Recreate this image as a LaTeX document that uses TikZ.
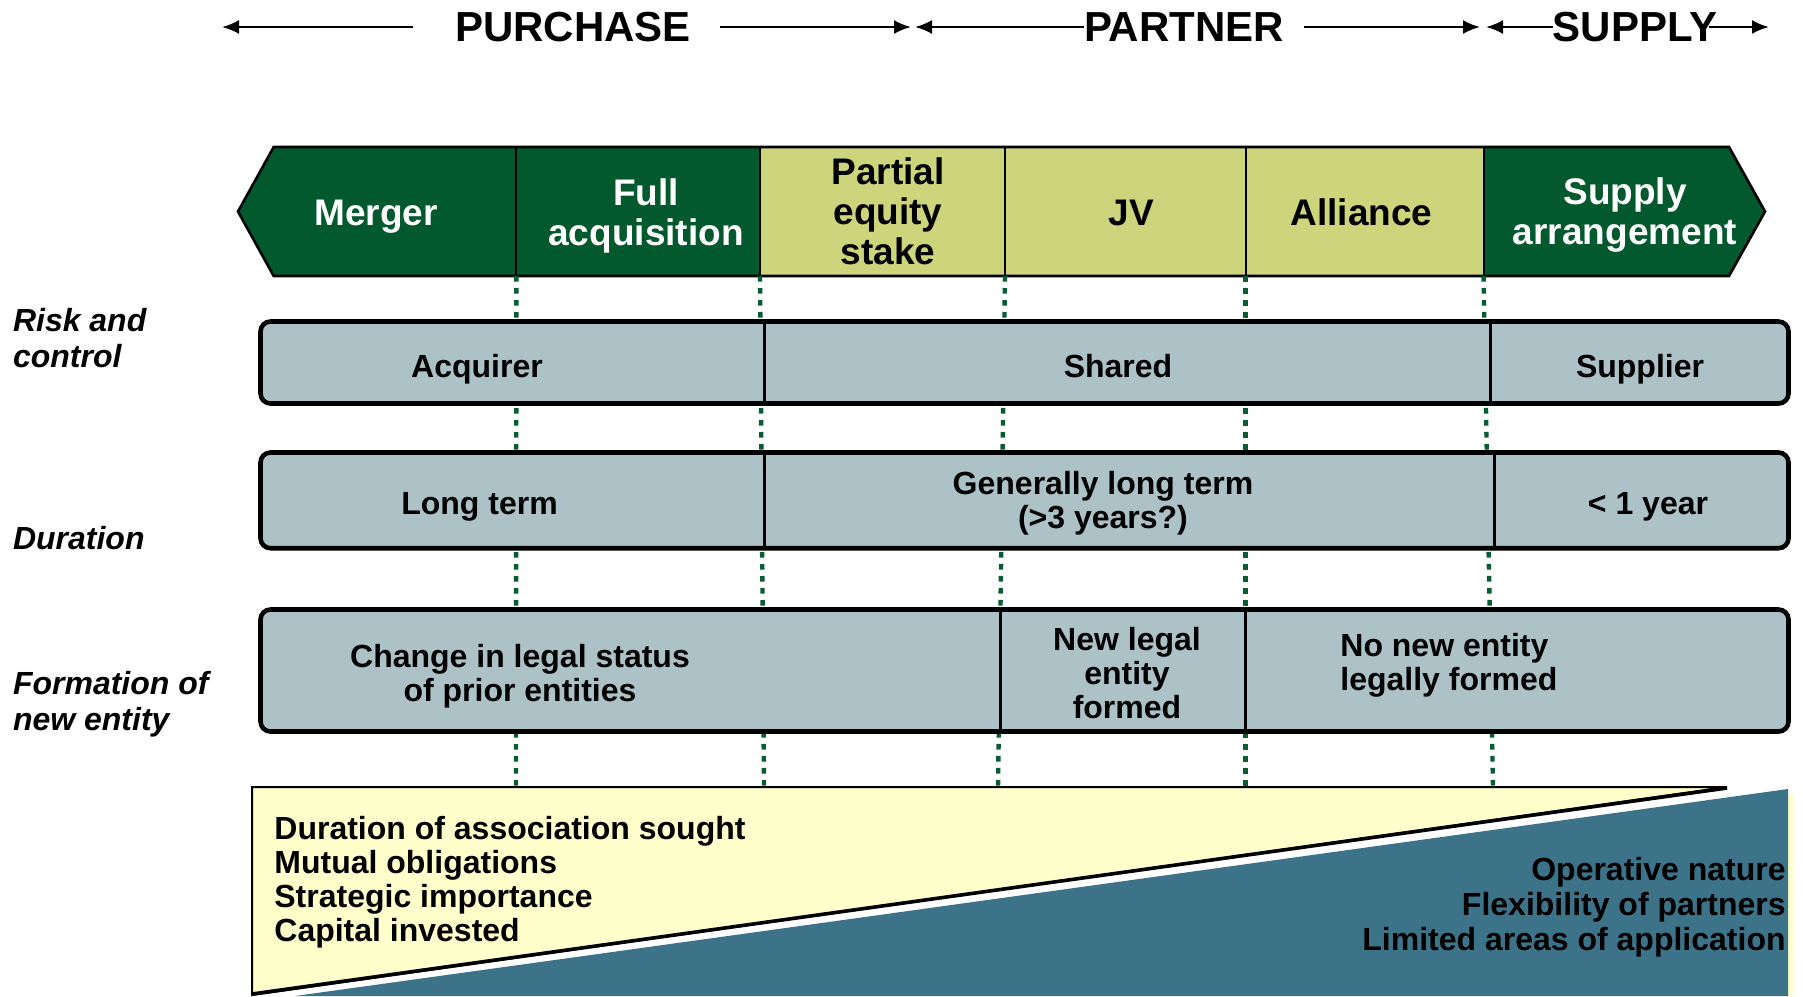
\documentclass[tikz,border=0pt]{standalone}
\usepackage{fontspec}
\setmainfont{Liberation Sans}
\usetikzlibrary{arrows.meta,calc}
\definecolor{chevgreen}{HTML}{03592E}
\definecolor{chevolive}{HTML}{CCD57C}
\definecolor{rowgray}{HTML}{ADC2C6}
\definecolor{paleyellow}{HTML}{FFFFCC}
\definecolor{deepteal}{HTML}{3D7388}
\definecolor{guidegreen}{HTML}{0A5C34}
\newcommand{\rowsplit}[3]{
   \draw[line width=1.5pt] (#1,#2) -- (#1,#3);
}
\newcommand{\spanarrow}[2]{
   \draw[-{Latex[length=8.5pt,width=7pt]}, line width=1.2pt] (#1) -- (#2);
}

\begin{document}
\begin{tikzpicture}[x=0.5pt,y=-0.5pt,
   toplabel/.style={font=\fontsize{21}{24}\selectfont\bfseries, inner sep=0},
   chevtext/.style={font=\fontsize{18.5}{20}\selectfont\bfseries, align=center, inner sep=0},
   rowtext/.style={font=\fontsize{16}{17}\selectfont\bfseries, align=center, inner sep=0},
   sidelabel/.style={font=\fontsize{16}{18}\selectfont\bfseries\itshape, align=left, anchor=west, inner sep=0},
   rowbox/.style={draw, line width=2.3pt, fill=rowgray, rounded corners=5pt},
   guide/.style={guidegreen, line width=2.2pt, dash pattern=on 2.8pt off 3.2pt}]

		\useasboundingbox (0,0) rectangle (1803,996);

		% Headings
		\node[toplabel] (purchase) at (573,27) {PURCHASE};
		\node[toplabel] (partner) at (1184,27) {PARTNER};
		\node[toplabel] (supply) at (1635,27) {SUPPLY};
		\coordinate (purL) at (222,27);
		\coordinate (purR) at (911,27);
		\coordinate (parL) at (915,27);
		\coordinate (parR) at (1480,27);
		\coordinate (supL) at (1486,27);
		\coordinate (supR) at (1769,27);
		\spanarrow{$(purchase.west)+(-42,0)$}{purL}
		\spanarrow{$(purchase.east)+(29,0)$}{purR}
		\spanarrow{partner.west}{parL}
		\spanarrow{$(partner.east)+(20,0)$}{parR}
		\spanarrow{supply.west}{supL}
		\spanarrow{$(supply.east)+(-9,0)$}{supR}

		% Chevron
		\fill[chevgreen] (238,211.5) -- (273.7,147) -- (760,147) -- (760,276) -- (273.7,276) -- cycle;
		\fill[chevolive] (760,147) rectangle (1483.5,276);
		\fill[chevgreen] (1483.5,147) -- (1729,147) -- (1765,211.5) -- (1729,276) -- (1483.5,276) -- cycle;
		\draw[line width=1.3pt] (238,211.5) -- (273.7,147) -- (1729,147) -- (1765,211.5) -- (1729,276) -- (273.7,276) -- cycle;
		\foreach \x [count=\i] in {516.4,760,1005,1245.5,1483.5}
			\draw[line width=1pt] (\x,147) -- (\x,276) coordinate (cut\i);

		\node[chevtext, white, anchor=base] (merger) at (376,225) {Merger};
		\node[chevtext, white] (fullacq) at (646,215.5) {Full\\acquisition};
		\node[chevtext] (partial) at (888,211.5) {Partial\\equity\\stake};
		\node[chevtext, anchor=base] (jv) at (1131.6,225) {JV};
		\node[chevtext, anchor=base] (alliance) at (1361.6,225) {Alliance};
		\node[chevtext, white] (supplyarr) at (1625,215.5) {Supply\\arrangement};

		% Guides
		\foreach \x [count=\i] in {516,764,998,1245.5,1493}{
			\coordinate (foot\i) at (\x,787);
			\draw[guide] (cut\i) -- (foot\i);
		}

		% Rows
		\draw[rowbox] (260.5,321.5) rectangle (1788.5,403.5);
		\rowsplit{764.75}{321.5}{403.5}
		\rowsplit{1490.4}{321.5}{403.5}
		\node[rowtext, anchor=base] (acquirer) at (477,377.5) {Acquirer};
		\node[rowtext, anchor=base] (shared) at (1118,377.5) {Shared};
		\node[rowtext, anchor=base] (supplier) at (1640,377.5) {Supplier};

		\draw[rowbox] (260.5,452.5) rectangle (1788.5,548.2);
		\rowsplit{764.75}{452.5}{548.2}
		\rowsplit{1494}{452.5}{548.2}
		\node[rowtext, anchor=base] (longterm) at (479.5,514.5) {Long term};
		\node[rowtext] (genlong) at (1103,503.5) {Generally long term\\(>3 years?)};
		\node[rowtext, anchor=base] (oneyear) at (1648,514.5) {< 1 year};

		\draw[rowbox] (260.5,609.5) rectangle (1788.5,731.5);
		\rowsplit{1000.5}{609.5}{731.5}
		\rowsplit{1245.5}{609.5}{731.5}
		\node[rowtext] (change) at (520,676) {Change in legal status\\of prior entities};
		\node[rowtext] (newlegal) at (1127,673) {New legal\\entity\\formed};
		\node[rowtext, align=left, anchor=west] (nonew) at (1340,665.5) {No new entity\\legally formed};

		% Side labels
		\node[sidelabel] (risklabel) at (12.6,338) {Risk and\\control};
		\node[sidelabel, anchor=base west] (durlabel) at (12.6,549.5) {Duration};
		\node[sidelabel] (formlabel) at (12.6,704) {Formation of\\new entity};

		% Wedges
		\fill[paleyellow] (1788,793) rectangle (1793,996);
		\draw[fill=paleyellow, line width=1pt] (252,787) -- (1727,787) -- (252,995) -- cycle;
		\draw[line width=1.8pt] (1727,788) -- (252,994);
		\fill[deepteal] (1788,789) -- (1788,996) -- (295,996) -- cycle;

		\foreach \t [count=\i] in {Duration of association sought, Mutual obligations, Strategic importance, Capital invested}
			\node[rowtext, anchor=base west] (more\i) at (274,805.2+34.1*\i) {\t};
		\foreach \t [count=\i] in {Operative nature, Flexibility of partners, Limited areas of application}
			\node[rowtext, anchor=base east] (less\i) at (1786,845+35*\i) {\t};
	\end{tikzpicture}
\end{document}
